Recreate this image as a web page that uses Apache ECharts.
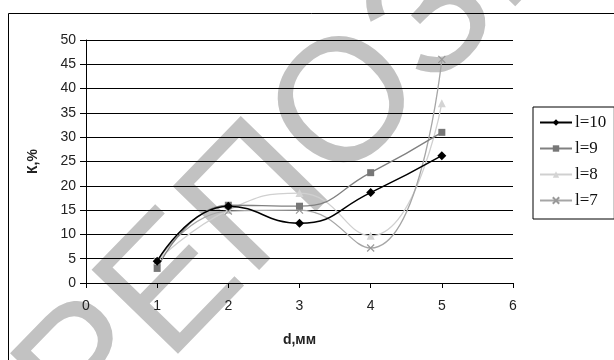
<!DOCTYPE html>
<html>
<head>
<meta charset="utf-8">
<script src="https://cdn.jsdelivr.net/npm/echarts@6/dist/echarts.min.js"></script>
<style>
html,body{margin:0;padding:0;background:#fff;}
#c{width:614px;height:360px;}
</style>
</head>
<body>
<div id="c"></div>
<script>
var xValues = [1, 2, 3, 4, 5];
var seriesNames = ['l=10', 'l=9', 'l=8', 'l=7'];
var l10 = [4.5, 15.8, 12.3, 18.6, 26.2];
var l9 = [3.0, 16.0, 15.8, 22.7, 31.0];
var l8 = [4.5, 15.0, 18.5, 9.7, 37.0];
var l7 = [4.5, 14.8, 15.0, 7.2, 46.0];
var xTicks = [0, 1, 2, 3, 4, 5, 6];
var yTicks = [0, 5, 10, 15, 20, 25, 30, 35, 40, 45, 50];
var xName = 'd,мм';
var yName = 'К,%';
var watermark = 'РЕПОЗИТОРИЙ БНТУ';

function pairs(vals) { return xValues.map(function (x, i) { return [x, vals[i]]; }); }

var chart = echarts.init(document.getElementById('c'), null, {renderer: 'canvas'});
var font = '"Liberation Sans", Arial, sans-serif';
var crossPath = 'path://M0,0L10,10M10,0L0,10';

chart.setOption({
  animation: false,
  backgroundColor: '#fff',
  grid: {left: 86, top: 40, right: 101, bottom: 77, show: false},
  xAxis: {
    type: 'value', min: xTicks[0], max: xTicks[xTicks.length - 1], interval: 1,
    name: xName, nameLocation: 'middle', nameGap: 50,
    nameTextStyle: {fontFamily: font, fontWeight: 'bold', fontSize: 14, color: '#222'},
    axisLine: {show: true, lineStyle: {color: '#000', width: 1}},
    axisTick: {show: true, length: 5, inside: false, lineStyle: {color: '#000'}},
    axisLabel: {fontFamily: font, fontSize: 14, color: '#222', margin: 16},
    splitLine: {show: false}
  },
  yAxis: {
    type: 'value', min: yTicks[0], max: yTicks[yTicks.length - 1], interval: 5,
    name: yName, nameLocation: 'middle', nameGap: 46, nameRotate: 90,
    nameTextStyle: {fontFamily: font, fontWeight: 'bold', fontSize: 14, color: '#222'},
    axisLine: {show: true, onZero: false, lineStyle: {color: '#000', width: 1}},
    axisTick: {show: true, length: 6, lineStyle: {color: '#000'}},
    axisLabel: {fontFamily: font, fontSize: 14, color: '#222', margin: 10},
    splitLine: {show: true, lineStyle: {color: '#000', width: 1}}
  },
  legend: {
    orient: 'vertical', left: 533, top: 107,
    width: 70,
    padding: [7, 8, 10, 6],
    borderColor: '#000', borderWidth: 1,
    itemWidth: 32, itemHeight: 8, itemGap: 9,
    textStyle: {fontFamily: '"Liberation Serif", "Times New Roman", serif', fontSize: 17, color: '#111', padding: [0, 0, 0, -2]},
    data: seriesNames
  },
  series: [
    {name: seriesNames[0], type: 'line', data: pairs(l10), smooth: 0.5, z: 5,
     symbol: 'diamond', symbolSize: 9,
     itemStyle: {color: '#000'}, lineStyle: {color: '#000', width: 1.5}},
    {name: seriesNames[1], type: 'line', data: pairs(l9), smooth: 0.5, z: 4,
     symbol: 'rect', symbolSize: 7,
     itemStyle: {color: '#777'}, lineStyle: {color: '#808080', width: 1.3}},
    {name: seriesNames[2], type: 'line', data: pairs(l8), smooth: 0.5, z: 3,
     symbol: 'triangle', symbolSize: 8,
     itemStyle: {color: '#d4d4d4'}, lineStyle: {color: '#d0d0d0', width: 1.3}},
    {name: seriesNames[3], type: 'line', data: pairs(l7), smooth: 0.5, z: 3,
     symbol: crossPath, symbolSize: 7,
     itemStyle: {color: 'transparent', borderColor: '#999', borderWidth: 1.2}, lineStyle: {color: '#a6a6a6', width: 1.3}}
  ],
  graphic: [
    {type: 'rect', silent: true, z: 100,
     shape: {x: 8.5, y: 13.5, width: 700, height: 500},
     style: {fill: 'none', stroke: '#000', lineWidth: 1}},
    {type: 'text', silent: true, z: -10, x: 52, y: 414, rotation: 0.80,
     style: {text: watermark, font: '175px "Liberation Sans", Arial, sans-serif', fill: '#c2c2c2', textAlign: 'left', textVerticalAlign: 'middle'}}
  ]
});
</script>
</body>
</html>
